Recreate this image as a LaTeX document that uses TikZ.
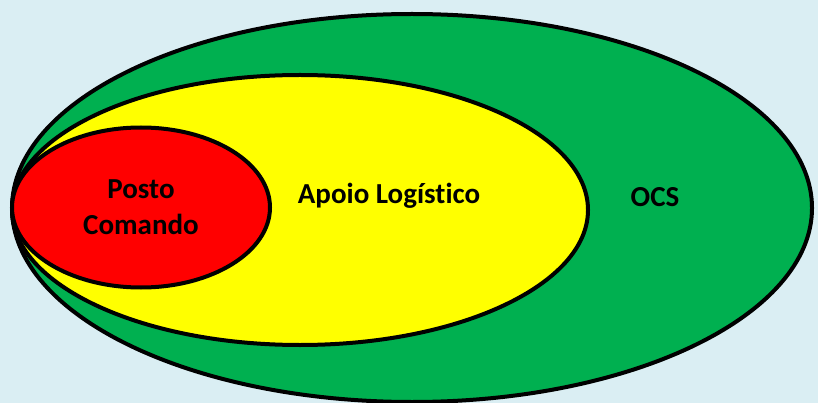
\documentclass[tikz,border=0pt]{standalone}
\usepackage{fontspec}
\setmainfont[RawFeature=-liga]{Carlito}
\definecolor{bg}{HTML}{DAEEF3}
\definecolor{ocsgreen}{HTML}{00B050}
\definecolor{ylw}{HTML}{FFFF00}
\definecolor{rd}{HTML}{FF0000}
\tikzset{
  ring/.style={draw=black, line width=4pt},
  lbl/.style={font=\bfseries\fontsize{29}{36}\selectfont, align=center, inner sep=0pt}
}
\begin{document}
\begin{tikzpicture}[x=1pt,y=-1pt]
\fill[bg] (0,0) rectangle (818,403);
\useasboundingbox (0,0) rectangle (818,403);
\begin{scope}
\clip (0,0) rectangle (818,403);
\draw[ring, fill=ocsgreen] (412,208) ellipse [x radius=400, y radius=194];
\end{scope}
\draw[ring, fill=ylw] (300,210) ellipse [x radius=288, y radius=135];
\draw[ring, fill=rd] (141,207.5) ellipse [x radius=129, y radius=80];
\node[lbl] (pc) at (141,207) {Posto\\Comando};
\node[lbl] (al) at (389,196) {Apoio Logístico};
\node[lbl] (ocs) at (655,197) {OCS};
\end{tikzpicture}
\end{document}
